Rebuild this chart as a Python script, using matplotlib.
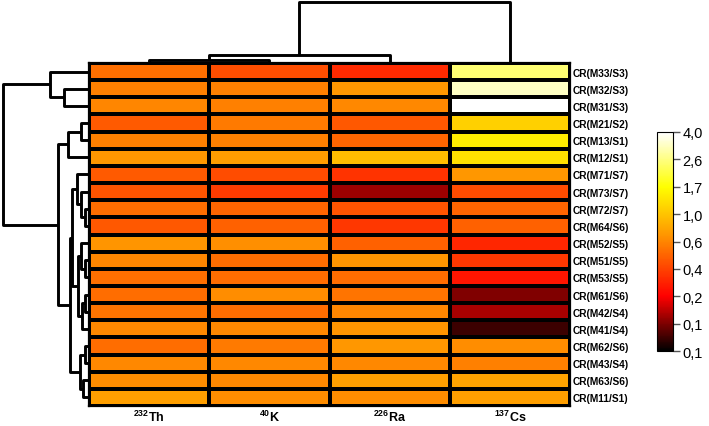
import numpy as np
import matplotlib
matplotlib.use('Agg')
from matplotlib import pyplot as plt
from matplotlib.colors import LinearSegmentedColormap, FuncNorm

# row labels, top to bottom as shown
samples = ['CR(M33/S3)', 'CR(M32/S3)', 'CR(M31/S3)', 'CR(M21/S2)', 'CR(M13/S1)',
           'CR(M12/S1)', 'CR(M71/S7)', 'CR(M73/S7)', 'CR(M72/S7)', 'CR(M64/S6)',
           'CR(M52/S5)', 'CR(M51/S5)', 'CR(M53/S5)', 'CR(M61/S6)', 'CR(M42/S4)',
           'CR(M41/S4)', 'CR(M62/S6)', 'CR(M43/S4)', 'CR(M63/S6)', 'CR(M11/S1)']
nuclides = [r'$^{\mathbf{232}}\mathbf{Th}$', r'$^{\mathbf{40}}\mathbf{K}$',
            r'$^{\mathbf{226}}\mathbf{Ra}$', r'$^{\mathbf{137}}\mathbf{Cs}$']

# cell values (estimated from colours)
th = [0.53, 0.58, 0.60, 0.46, 0.58, 0.71, 0.46, 0.44, 0.52, 0.45,
      0.69, 0.60, 0.53, 0.52, 0.54, 0.62, 0.52, 0.62, 0.64, 0.76]
k = [0.42, 0.58, 0.58, 0.56, 0.58, 0.74, 0.41, 0.36, 0.49, 0.48,
     0.66, 0.52, 0.52, 0.64, 0.52, 0.62, 0.56, 0.62, 0.62, 0.64]
ra = [0.32, 0.71, 0.62, 0.45, 0.49, 0.95, 0.34, 0.15, 0.44, 0.35,
      0.48, 0.69, 0.52, 0.54, 0.60, 0.69, 0.71, 0.62, 0.76, 0.64]
cs = [2.49, 3.33, 4.00, 1.14, 1.48, 1.34, 0.71, 0.41, 0.49, 0.48,
      0.31, 0.35, 0.27, 0.13, 0.16, 0.105, 0.64, 0.58, 0.78, 0.76]

# colour key breaks (evenly spaced on the key)
breaks = [0.08, 0.13, 0.22, 0.38, 0.60, 1.0, 1.7, 2.6, 4.0]

# dendrograms: (child a, child b, height); ids >= n are earlier merges
row_merges = [(1, 2, 0.29), (0, 20, 0.45), (3, 4, 0.093), (22, 5, 0.244),
              (8, 9, 0.05), (7, 24, 0.09), (6, 25, 0.14), (11, 12, 0.05),
              (10, 27, 0.09), (13, 14, 0.05), (29, 15, 0.08), (28, 30, 0.13),
              (26, 31, 0.20), (16, 17, 0.05), (18, 19, 0.07), (33, 34, 0.10),
              (32, 35, 0.22), (23, 36, 0.36), (21, 37, 1.0)]
col_merges = [(0, 1, 0.057), (4, 2, 0.13), (5, 3, 1.0)]


def draw_dendro(ax, merges, n, orient):
    pos = {i: i + 0.5 for i in range(n)}
    hgt = {i: 0.0 for i in range(n)}
    for j, (a, b, h) in enumerate(merges):
        xs = [hgt[a], h, h, hgt[b]]
        ys = [pos[a], pos[a], pos[b], pos[b]]
        if orient == 'left':
            ax.plot(xs, ys, color='k', lw=2.1, solid_capstyle='butt', clip_on=False)
        else:
            ax.plot(ys, xs, color='k', lw=2.1, solid_capstyle='butt', clip_on=False)
        pos[n + j] = (pos[a] + pos[b]) / 2
        hgt[n + j] = h
    ax.axis('off')


W, H = 709, 427
fig = plt.figure(figsize=(W / 100, H / 100), dpi=100)
plt.rcParams['mathtext.fontset'] = 'custom'
plt.rcParams['mathtext.bf'] = 'Liberation Sans:bold'
plt.rcParams['mathtext.rm'] = 'Liberation Sans'


def px(x0, y0, x1, y1):
    return [x0 / W, 1 - y1 / H, (x1 - x0) / W, (y1 - y0) / H]


cmap = LinearSegmentedColormap.from_list(
    'blk_red_yel_wht',
    [(0, '#000000'), (0.25, '#ff0000'), (0.55, '#ffa000'), (0.75, '#ffff00'), (1, '#ffffff')])
ticks_pos = np.linspace(0, 1, len(breaks))
norm = FuncNorm((lambda x: np.interp(x, breaks, ticks_pos),
                 lambda y: np.interp(y, ticks_pos, breaks)), vmin=breaks[0], vmax=breaks[-1])

data = np.column_stack([th, k, ra, cs])

ax = fig.add_axes(px(89, 64, 570, 407))
mesh = ax.pcolormesh(np.arange(5), np.arange(21), data, cmap=cmap, norm=norm,
                     edgecolors='k', linewidth=1.6)
ax.set_xlim(0, 4)
ax.set_ylim(20, 0)
ax.set_xticks(np.arange(4) + 0.5)
ax.set_xticklabels(nuclides, fontsize=9)
ax.set_yticks(np.arange(20) + 0.5)
ax.set_yticklabels(samples, fontsize=7.3, fontweight='bold', family='Liberation Sans')
ax.yaxis.tick_right()
ax.tick_params(length=0)
ax.tick_params(axis='y', pad=2)
ax.tick_params(axis='x', pad=2)
for s in ax.spines.values():
    s.set_linewidth(1.6)

axl = fig.add_axes(px(0, 64, 89, 407))
draw_dendro(axl, row_merges, 20, 'left')
axl.set_xlim(89 / 86, 0)
axl.set_ylim(20, 0)

axt = fig.add_axes(px(89, 0, 570, 64))
draw_dendro(axt, col_merges, 4, 'top')
axt.set_xlim(0, 4)
axt.set_ylim(0, 64 / 61)

cax = fig.add_axes(px(657, 133, 673, 352))
cb = fig.colorbar(mesh, cax=cax)
cb.set_ticks(breaks)
cb.set_ticklabels([f'{b:.1f}'.replace('.', ',') for b in breaks])
cb.ax.tick_params(labelsize=10.5, length=5, width=1, color='#555555', pad=2)
for t in cb.ax.get_yticklabels():
    t.set_family('Liberation Sans')
cb.outline.set_linewidth(0.8)
cb.ax.minorticks_off()

fig.savefig('out.png', dpi=100)
